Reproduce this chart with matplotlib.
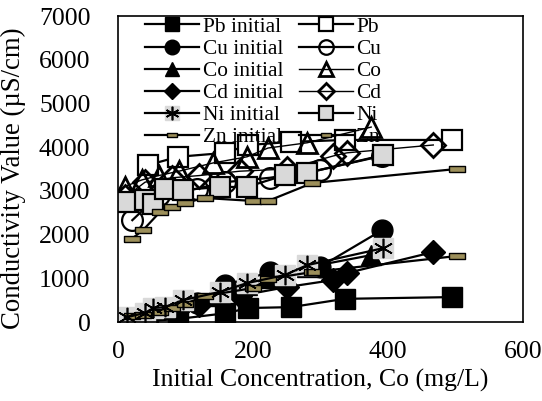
import matplotlib
matplotlib.use("Agg")
import matplotlib.pyplot as plt
import numpy as np

plt.rcParams['font.family'] = ['Liberation Serif', 'DejaVu Serif']

# Data
pb_x = [44, 89, 159, 193, 256, 336, 495]
pb_init = [20, 70, 200, 320, 340, 530, 570]
pb_fin = [3590, 3780, 3870, 4050, 4120, 4165, 4165]

cu_x = [21, 60, 117, 159, 225, 299, 391]
cu_init = [80, 300, 430, 850, 1140, 1260, 2100]
cu_fin = [2330, 2900, 3050, 3200, 3300, 3480, 3800]

co_x = [10, 35, 60, 90, 141, 191, 222, 280, 375]
co_init = [50, 200, 300, 450, 600, 850, 1000, 1250, 1530]
co_fin = [3100, 3250, 3350, 3450, 3640, 3780, 3980, 4100, 4460]

cd_x = [10, 40, 80, 120, 180, 250, 319, 339, 467]
cd_init = [50, 150, 300, 400, 600, 800, 960, 1120, 1600]
cd_fin = [2850, 3200, 3300, 3350, 3450, 3500, 3800, 3870, 4050]

ni_x = [13, 40, 52, 70, 96, 151, 191, 247, 280, 393]
ni_init = [110, 210, 320, 340, 500, 690, 890, 1075, 1300, 1690]
ni_fin = [2750, 2790, 2700, 3040, 3020, 3090, 3090, 3360, 3410, 3820]

zn_x = [20, 37, 62, 80, 99, 128, 200, 222, 288, 502]
zn_init = [137, 160, 229, 320, 412, 595, 778, 984, 1144, 1510]
zn_fin = [1900, 2105, 2517, 2632, 2723, 2838, 2769, 2769, 3181, 3501]

xticks = [0, 200, 400, 600]
yticks = [0, 1000, 2000, 3000, 4000, 5000, 6000, 7000]

fig = plt.figure(figsize=(5.42, 4.01), dpi=100)
ax = fig.add_axes([0.218, 0.197, 0.747, 0.763])

ms = 14
mew = 1.6
lw = 1.6
rect = [(-1, -0.35), (1, -0.35), (1, 0.35), (-1, 0.35), (-1, -0.35)]
olive = '#9c8f5a'
gray = '#d9d9d9'

h = {}
h['Pb initial'], = ax.plot(pb_x, pb_init, '-', color='k', lw=lw, marker='s', ms=ms, mfc='k', mec='k')
h['Pb'], = ax.plot(pb_x, pb_fin, '-', color='k', lw=lw, marker='s', ms=ms, mfc='white', mec='k', mew=mew)
h['Cu initial'], = ax.plot(cu_x, cu_init, '-', color='k', lw=lw, marker='o', ms=ms + 1, mfc='k', mec='k')
h['Cu'], = ax.plot(cu_x, cu_fin, '-', color='k', lw=lw, marker='o', ms=ms + 1, mfc='none', mec='k', mew=mew)
h['Co initial'], = ax.plot(co_x, co_init, '-', color='k', lw=lw, marker='^', ms=ms, mfc='k', mec='k')
h['Co'], = ax.plot(co_x, co_fin, '-', color='k', lw=1.0, marker='^', ms=ms, mfc='none', mec='k', mew=mew + 0.4)
h['Cd initial'], = ax.plot(cd_x, cd_init, '-', color='k', lw=lw, marker='D', ms=ms - 2, mfc='k', mec='k')
h['Cd'], = ax.plot(cd_x, cd_fin, '-', color='k', lw=1.0, marker='D', ms=ms - 2, mfc='none', mec='k', mew=mew + 0.4)
# Ni initial: gray square background + asterisk
bg, = ax.plot(ni_x, ni_init, ls='none', marker='s', ms=ms, mfc=gray, mec=gray, zorder=2)
st, = ax.plot(ni_x, ni_init, '-', color='k', lw=lw, marker=(6, 2, 0), ms=ms, mec='k', mew=1.2, zorder=2.1)
h['Ni initial'] = (bg, st)
h['Ni'], = ax.plot(ni_x, ni_fin, '-', color='k', lw=lw, marker='s', ms=ms + 1, mfc=gray, mec='k', mew=mew)
h['Zn initial'], = ax.plot(zn_x, zn_init, '-', color='k', lw=lw, marker=rect, ms=11, mfc=olive, mec='k', mew=1.0)
h['Zn'], = ax.plot(zn_x, zn_fin, '-', color='k', lw=lw, marker=rect, ms=11, mfc=olive, mec='k', mew=1.0)

ax.set_xlim(0, 600)
ax.set_ylim(0, 7000)
ax.set_xticks(xticks)
ax.set_yticks(yticks)
ax.tick_params(axis='y', length=0, labelsize=18.5, pad=20)
ax.tick_params(axis='x', length=0, labelsize=18.5, pad=14)
for s in ax.spines.values():
    s.set_linewidth(1.2)
ax.set_xlabel('Initial Concentration, Co (mg/L)', fontsize=18.5, labelpad=4)
ax.set_ylabel('Conductivity Value (µS/cm)', fontsize=19.3)
ax.yaxis.set_label_coords(-0.228, 0.47)

labels = ['Pb initial', 'Cu initial', 'Co initial', 'Cd initial', 'Ni initial', 'Zn initial',
          'Pb', 'Cu', 'Co', 'Cd', 'Ni', 'Zn']
leg = ax.legend([h[k] for k in labels], labels, ncol=2, loc='upper left',
                bbox_to_anchor=(0.066, 0.997), frameon=False, fontsize=15.4,
                handlelength=2.55, handletextpad=0.15, columnspacing=0.72,
                labelspacing=0.1, borderpad=0, borderaxespad=0, markerscale=0.7)

fig.savefig('out.png', dpi=100)
